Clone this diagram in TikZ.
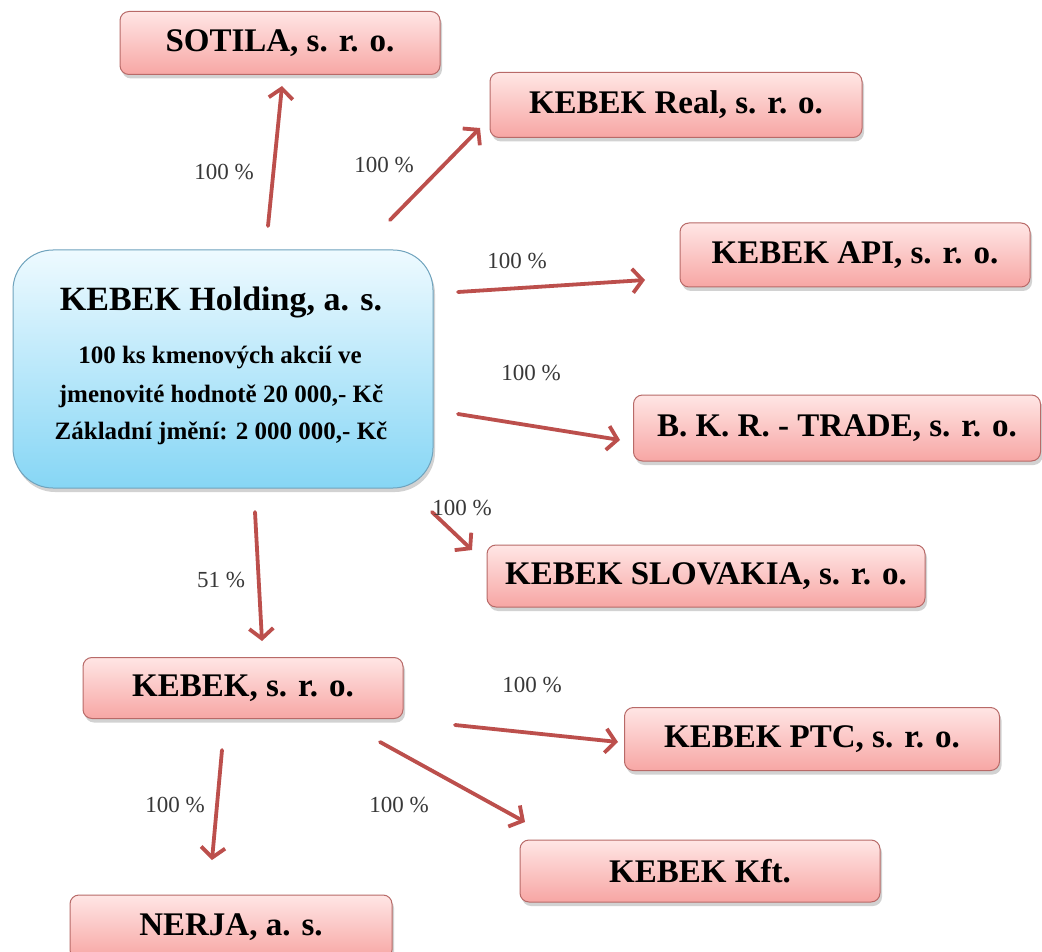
\documentclass[tikz,border=0pt]{standalone}
\usepackage{fontspec}
\setmainfont{Liberation Serif}
\usetikzlibrary{arrows.meta,shadows}
\definecolor{arrc}{HTML}{BC4F4C}
\definecolor{pinktop}{HTML}{FFE6E5}
\definecolor{pinkbot}{HTML}{F7A6A4}
\definecolor{pinkline}{HTML}{B86A68}
\definecolor{bluetop}{HTML}{EEFAFF}
\definecolor{bluebot}{HTML}{86D6F5}
\definecolor{blueline}{HTML}{6FA3BD}
\tikzset{
  firm/.style={draw=pinkline, line width=1pt, rounded corners=9pt, top color=pinktop, bottom color=pinkbot,
    drop shadow={shadow xshift=2pt, shadow yshift=-4pt, opacity=0.35},
    font=\fontsize{33}{38}\selectfont\bfseries, inner sep=0pt},
  hold/.style={draw=blueline, line width=1pt, rounded corners=40pt, top color=bluetop, bottom color=bluebot,
    drop shadow={shadow xshift=2pt, shadow yshift=-4pt, opacity=0.35},
    inner sep=0pt, align=center, minimum width=420pt, minimum height=238pt},
  htext/.style={font=\fontsize{25}{28}\selectfont\bfseries},
  arr/.style={draw=arrc, line width=3.8pt, line cap=round, -{Straight Barb[length=10pt,width=24pt,line width=3.8pt]}},
  pct/.style={font=\fontsize{23}{26}\selectfont, text=black!78},
}
\begin{document}
\begin{tikzpicture}[x=1pt,y=-1pt]
\useasboundingbox (0,0) rectangle (1042,952);
\fill[white] (0,0) rectangle (1042,952);
% boxes
\node[firm, minimum width=320pt, minimum height=63pt] (sotila) at (280,43) {SOTILA, s. r. o.};
\node[firm, minimum width=372pt, minimum height=65pt] (real) at (676,105) {KEBEK Real, s. r. o.};
\node[firm, minimum width=350pt, minimum height=64pt] (api) at (855,255) {KEBEK API, s. r. o.};
\node[firm, minimum width=407pt, minimum height=66pt] (trade) at (837,428) {B. K. R. - TRADE, s. r. o.};
\node[firm, minimum width=438pt, minimum height=62pt] (slov) at (706,576) {KEBEK SLOVAKIA, s. r. o.};
\node[firm, minimum width=320pt, minimum height=61pt] (kebek) at (243,688) {KEBEK, s. r. o.};
\node[firm, minimum width=375pt, minimum height=63pt] (ptc) at (812,739) {KEBEK PTC, s. r. o.};
\node[firm, minimum width=360pt, minimum height=62pt] (kft) at (700,871) {KEBEK Kft.};
\node[firm, minimum width=322pt, minimum height=64pt] (nerja) at (231,927) {NERJA, a. s.};
\node[hold] (holding) at (223,369) {};
\node[font=\fontsize{34}{40}\selectfont\bfseries] (htitle) at (221,302) {KEBEK Holding, a. s.};
\node[htext] (hl1) at (220,358) {100 ks kmenových akcií ve};
\node[htext] (hl2) at (221,396) {jmenovité hodnotě 20 000,- Kč};
\node[htext] (hl3) at (221,433) {Základní jmění: 2 000 000,- Kč};
% arrow end points
\coordinate (a1s) at (268,226); \coordinate (a1e) at (282,86);
\coordinate (a2s) at (390,220); \coordinate (a2e) at (480,128);
\coordinate (a3s) at (458,292); \coordinate (a3e) at (645,280);
\coordinate (a4s) at (458,414); \coordinate (a4e) at (620,440);
\coordinate (a5s) at (432,512); \coordinate (a5e) at (472,550);
\coordinate (a6s) at (255,512); \coordinate (a6e) at (262,641);
\coordinate (a7s) at (455,725); \coordinate (a7e) at (618,742);
\coordinate (a8s) at (380,742); \coordinate (a8e) at (525,822);
\coordinate (a9s) at (222,750); \coordinate (a9e) at (212,860);
\draw[arr] (a1s) -- (a1e);
\draw[arr] (a2s) -- (a2e);
\draw[arr] (a3s) -- (a3e);
\draw[arr] (a4s) -- (a4e);
\draw[arr] (a5s) -- (a5e);
\draw[arr] (a6s) -- (a6e);
\draw[arr] (a7s) -- (a7e);
\draw[arr] (a8s) -- (a8e);
\draw[arr] (a9s) -- (a9e);
% labels
\node[pct] (p1) at (224,172) {100 \%};
\node[pct] (p2) at (384,165) {100 \%};
\node[pct] (p3) at (517,261) {100 \%};
\node[pct] (p4) at (531,373) {100 \%};
\node[pct] (p5) at (462,508) {100 \%};
\node[pct] (p6) at (221,580) {51 \%};
\node[pct] (p7) at (532,685) {100 \%};
\node[pct] (p8) at (175,805) {100 \%};
\node[pct] (p9) at (399,805) {100 \%};
\end{tikzpicture}
\end{document}
